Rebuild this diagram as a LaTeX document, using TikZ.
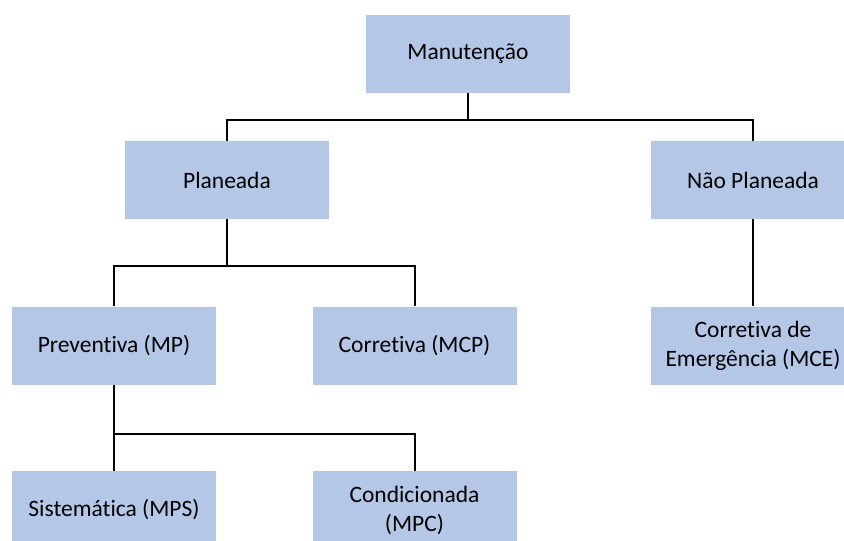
\documentclass[tikz,border=0pt]{standalone}
\usepackage{fontspec}
\setmainfont{Carlito}[Ligatures=NoCommon]
\usetikzlibrary{positioning}
\definecolor{boxblue}{HTML}{B4C7E7}
\tikzstyle{block} = [align=center,fill=boxblue,rectangle,text centered,minimum width=204pt,minimum height=78pt,inner sep=0pt,font=\fontsize{23.5}{29}\selectfont]
\tikzstyle{link} = [draw=black,line width=2pt]

\begin{document}
\begin{tikzpicture}[x=1pt,y=1pt,on grid]
				\useasboundingbox (0,0) rectangle (844,-541);
				\node (man) [block] at (468,-54) {Manutenção};
				\node (pla) [block,below left=126pt and 241pt of man] {Planeada};
				\node (nao) [block,right=526pt of pla] {Não Planeada};
				\node (pre) [block,below left=165.5pt and 113pt of pla] {Preventiva (MP)};
				\node (cor) [block,right=300.5pt of pre] {Corretiva (MCP)};
				\node (eme) [block,below=165.5pt of nao] {Corretiva de\\Emergência (MCE)};
				\node (sis) [block,below=164.5pt of pre] {Sistemática (MPS)};
				\node (con) [block,right=300.5pt of sis] {Condicionada\\(MPC)};
				\draw [link] (man.south) -- ++(0,-27) coordinate (j1) -| (pla.north);
				\draw [link] (j1) -| (nao.north);
				\draw [link] (pla.south) -- ++(0,-47) coordinate (j2) -| (pre.north);
				\draw [link] (j2) -| (cor.north);
				\draw [link] (nao) -- (eme);
				\draw [link] (pre.south) -- ++(0,-49) coordinate (j3) -| (sis.north);
				\draw [link] (j3) -| (con.north);
			\end{tikzpicture}
\end{document}
